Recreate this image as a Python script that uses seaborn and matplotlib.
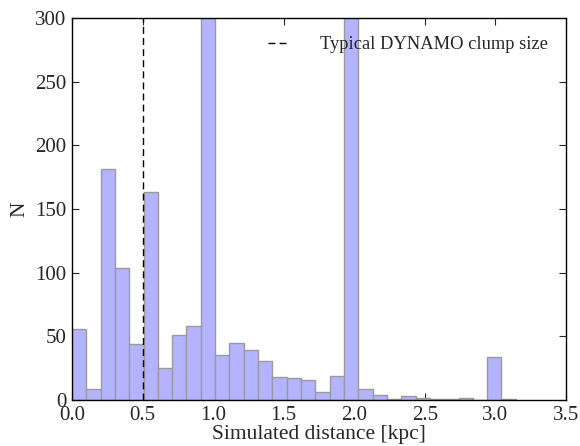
import matplotlib
matplotlib.use("Agg")
import matplotlib.pyplot as plt
import seaborn as sns
import numpy as np
import pandas as pd
from matplotlib.ticker import MultipleLocator

# bin centres (kpc) and counts
n_bins = 31
max_dist = 3.144
counts = [56, 9, 181, 104, 44, 163, 25, 51, 58, 420, 35, 45, 39, 31, 18, 17,
          16, 6, 19, 480, 9, 4, 1, 3, 2, 1, 1, 2, 0, 34, 1]
clump_size = 0.5
legend_label = 'Typical DYNAMO clump size'

width = max_dist / n_bins
centres = (np.arange(n_bins) + 0.5) * width
df = pd.DataFrame({'dist': centres, 'n': counts})

sns.set_style('ticks')
plt.rcParams['font.family'] = ['Liberation Serif', 'DejaVu Serif']

fig = plt.figure(figsize=(5.8, 4.46), dpi=100)
ax = fig.add_axes([0.124, 0.103, 0.852, 0.857])

sns.histplot(data=df, x='dist', weights='n', binwidth=width, binrange=(0, max_dist), ax=ax,
             color=(0.7, 0.7, 1.0), alpha=1.0, edgecolor='#9a9a9a', linewidth=1.0)

ax.axvline(clump_size, color='black', linestyle=(0, (5, 3)), linewidth=1.0, label=legend_label)

ax.set_xlim(0, 3.5)
ax.set_ylim(0, 300)
ax.xaxis.set_major_locator(MultipleLocator(0.5))
ax.yaxis.set_major_locator(MultipleLocator(50))
ax.tick_params(direction='in', top=True, right=True, labelsize=15, length=5, width=0.8, pad=4)
for s in ax.spines.values():
    s.set_visible(True)
    s.set_color('black')
    s.set_linewidth(1.0)

ax.set_xlabel('Simulated distance [kpc]', fontsize=15.5, labelpad=0)
ax.set_ylabel('N', fontsize=15.5, labelpad=4)

ax.legend(loc='upper right', frameon=False, fontsize=13.3, handlelength=1.2,
          handletextpad=1.6, borderaxespad=0.6)

plt.savefig('out.png', dpi=100)
